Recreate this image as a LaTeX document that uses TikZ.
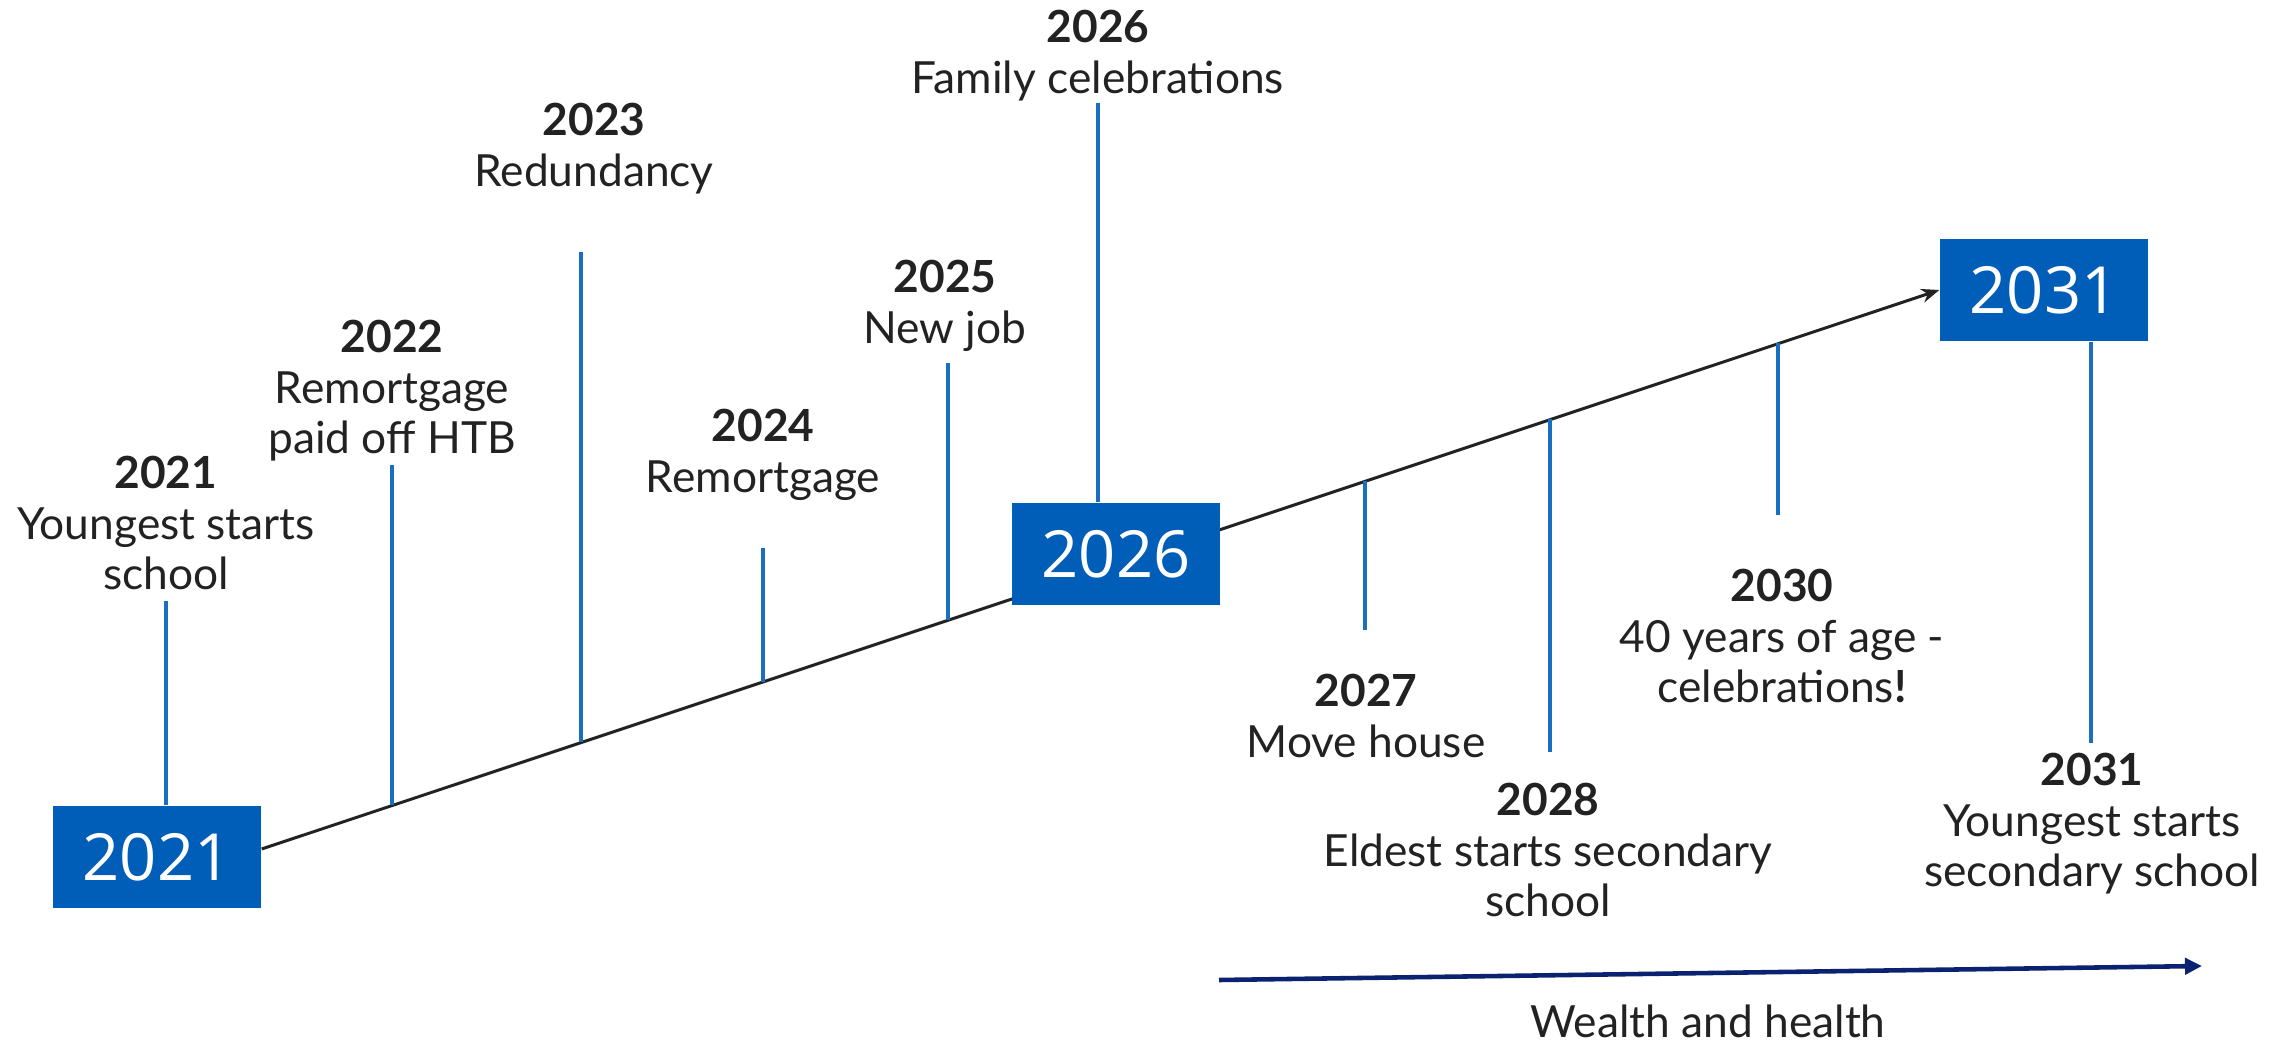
\documentclass[tikz,border=0pt]{standalone}
\usepackage{fontspec}
\setmainfont{Lato}
\newfontfamily\boxfont{Open Sans}
\usetikzlibrary{arrows.meta}

\definecolor{nhsblue}{HTML}{005EB8}
\definecolor{navy}{HTML}{0B2270}
\definecolor{ink}{HTML}{222222}

\begin{document}
\begin{tikzpicture}[x=0.1mm,y=-0.1mm]
        \tikzstyle{yearbox}=[fill=nhsblue,text=white,minimum width=20.8mm,minimum height=10.2mm,inner sep=0pt,font=\boxfont\fontsize{18.5}{20}\selectfont]
        \tikzstyle{event}=[align=center,anchor=north,inner sep=0pt,text=ink,font=\fontsize{12.6}{14.5}\selectfont]
        \tikzstyle{tick}=[draw=nhsblue!90!white,line width=0.9pt]
        \tikzstyle{axis}=[draw=ink,line width=0.85pt,-{Stealth[length=1.8mm,width=1.4mm]}]
        \tikzstyle{trend}=[draw=navy,line width=1.3pt,-{Triangle[length=1.7mm,width=1.6mm]}]

        \useasboundingbox (0,0) rectangle (2287,1042);

        % the timeline, 2026 box goes on top of it
        \node[yearbox] (y2021) at (157,857) {2021};
        \node[yearbox] (y2031) at (2044,290) {2031};
        \draw[axis] ([yshift=0.8mm]y2021.east) -- (y2031.west);
        \node[yearbox] (y2026) at (1116,554) {2026};

        % events above the line
        \node[event] (e2021) at (166,455)  {\textbf{2021}\\Youngest starts\\school};
        \node[event] (e2022) at (392,319)  {\textbf{2022}\\Remortgage\\paid off HTB};
        \node[event] (e2023) at (594,102)  {\textbf{2023}\\Redundancy};
        \node[event] (e2024) at (763,408)  {\textbf{2024}\\Remortgage};
        \node[event] (e2025) at (945,259)  {\textbf{2025}\\New job};
        \node[event] (e2026) at (1098,9)   {\textbf{2026}\\Family celebrations};

        % events below the line
        \node[event] (e2027) at (1366,673) {\textbf{2027}\\Move house};
        \node[event] (e2028) at (1548,782) {\textbf{2028}\\Eldest starts secondary\\school};
        \node[event] (e2030) at (1782,568) {\textbf{2030}\\40 years of age -\\celebrations\textbf{!}};
        \node[event] (e2031) at (2092,752) {\textbf{2031}\\Youngest starts\\secondary school};

        % tick ends
        \coordinate (t2021) at (166,601);
        \coordinate (t2022) at (392,465);  \coordinate (a2022) at (392,805);
        \coordinate (t2023) at (581,252);  \coordinate (a2023) at (581,742);
        \coordinate (t2024) at (763,548);  \coordinate (a2024) at (763,682);
        \coordinate (t2025) at (948,363);  \coordinate (a2025) at (948,620);
        \coordinate (t2026) at (1098,103);
        \coordinate (a2027) at (1365,481); \coordinate (t2027) at (1365,630);
        \coordinate (a2028) at (1550,419); \coordinate (t2028) at (1550,752);
        \coordinate (a2030) at (1778,343); \coordinate (t2030) at (1778,515);
        \coordinate (t2031) at (2091,743);

        \draw[tick] (t2021) -- (t2021 |- y2021.north);  % 2021
        \draw[tick] (t2022) -- (a2022);                 % 2022
        \draw[tick] (t2023) -- (a2023);                 % 2023
        \draw[tick] (t2024) -- (a2024);                 % 2024
        \draw[tick] (t2025) -- (a2025);                 % 2025
        \draw[tick] (t2026) -- (t2026 |- y2026.north);  % 2026
        \draw[tick] (a2027) -- (t2027);                 % 2027
        \draw[tick] (a2028) -- (t2028);                 % 2028
        \draw[tick] (a2030) -- (t2030);                 % 2030
        \draw[tick] (t2031 |- y2031.south) -- (t2031);  % 2031

        % wealth arrow
        \coordinate (w0) at (1219,980);
        \coordinate (w1) at (2202,966);
        \draw[trend] (w0) -- (w1);
        \node[text=ink,font=\fontsize{12.6}{14.5}\selectfont,inner sep=0pt] (wealth) at (1708,1021) {Wealth and health};
\end{tikzpicture}
\end{document}
